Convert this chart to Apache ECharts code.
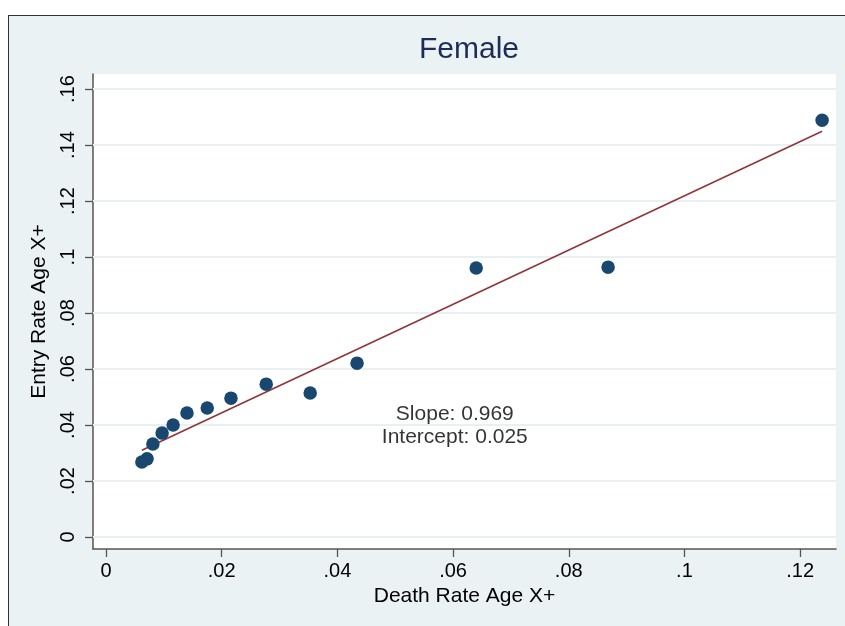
<!DOCTYPE html>
<html>
<head>
<meta charset="utf-8">
<script src="https://cdn.jsdelivr.net/npm/echarts@6/dist/echarts.min.js"></script>
<style>
html,body{margin:0;padding:0;background:#fff;overflow:hidden;}
#frame{position:absolute;left:8px;top:15px;width:900px;height:700px;background:#EAF2F3;border-left:1.5px solid #333;border-top:1.5px solid #333;}
#chart{position:absolute;left:0;top:0;width:845px;height:626px;}
</style>
</head>
<body>
<div id="frame"></div>
<div id="chart"></div>
<script>
// Data
const deathRate = [0.0062, 0.0071, 0.0081, 0.0097, 0.0116, 0.0140, 0.0175, 0.0216, 0.0277, 0.0353, 0.0434, 0.0640, 0.0868, 0.1238];
const entryRate = [0.0268, 0.0279, 0.0332, 0.0371, 0.0400, 0.0443, 0.0461, 0.0496, 0.0546, 0.0514, 0.0621, 0.0961, 0.0964, 0.1489];
const slope = 0.969;
const intercept = 0.025;
const xTicks = [0, 0.02, 0.04, 0.06, 0.08, 0.1, 0.12];
const yTicks = [0, 0.02, 0.04, 0.06, 0.08, 0.1, 0.12, 0.14, 0.16];
const annotationLines = ['Slope: 0.969', 'Intercept: 0.025'];
const annotationX = 0.0603;
const annotationY = [0.0439, 0.0357];

const fmt = v => v === 0 ? '0' : String(+v.toFixed(2)).replace(/^0/, '');
const pts = deathRate.map((x, i) => [x, entryRate[i]]);
const xMinD = Math.min(...deathRate), xMaxD = Math.max(...deathRate);
const fitLine = [[xMinD, intercept + slope * xMinD], [xMaxD, intercept + slope * xMaxD]];
const font = 'Liberation Sans, Arial, sans-serif';

const chart = echarts.init(document.getElementById('chart'));
chart.setOption({
  backgroundColor: 'transparent',
  animation: false,
  title: {
    text: 'Female', left: 464, top: 30, textAlign: 'center',
    textStyle: { color: '#1c2d5a', fontSize: 30, fontWeight: 'normal', fontFamily: font }
  },
  grid: { left: 93, right: 9, top: 74, bottom: 77, show: true, backgroundColor: '#fff', borderWidth: 0 },
  xAxis: {
    type: 'value', min: -0.00225, max: 0.1262,
    name: 'Death Rate Age X+', nameLocation: 'middle', nameGap: 32,
    nameTextStyle: { color: '#000', fontSize: 21, fontFamily: font },
    axisLine: { show: true, onZero: false, lineStyle: { color: '#555', width: 1.5 } },
    axisTick: { show: true, length: 8, customValues: xTicks, lineStyle: { color: '#555', width: 1.3 } },
    axisLabel: { customValues: xTicks, formatter: fmt, color: '#000', fontSize: 20, fontFamily: font, margin: 12 },
    splitLine: { show: false }
  },
  yAxis: {
    type: 'value', min: -0.0043, max: 0.1654,
    name: 'Entry Rate Age X+', nameLocation: 'middle', nameGap: 43, nameRotate: 90,
    nameTextStyle: { color: '#000', fontSize: 21, fontFamily: font },
    axisLine: { show: true, onZero: false, lineStyle: { color: '#555', width: 1.5 } },
    axisTick: { show: true, length: 8, customValues: yTicks, lineStyle: { color: '#555', width: 1.3 } },
    axisLabel: { customValues: yTicks, formatter: fmt, rotate: 90, color: '#000', fontSize: 20, fontFamily: font, margin: 15 },
    splitLine: { show: false }
  },
  series: [
    {
      type: 'line', data: [], silent: true, z: 1,
      markLine: {
        silent: true, symbol: 'none', z: 1, label: { show: false },
        lineStyle: { color: '#e9f0f3', width: 2, type: 'solid' },
        data: yTicks.map(v => ({ yAxis: v }))
      }
    },
    {
      type: 'line', data: fitLine, showSymbol: false, symbol: 'none',
      lineStyle: { color: '#90353b', width: 1.6 }, z: 10
    },
    {
      type: 'scatter', data: pts, symbolSize: 13.5,
      itemStyle: { color: '#1a476f', opacity: 1 }, z: 11
    },
    {
      type: 'scatter', symbolSize: 0, silent: true,
      data: annotationLines.map((t, i) => ({ value: [annotationX, annotationY[i]], name: t })),
      label: { show: true, position: 'inside', formatter: p => p.name, color: '#000', fontSize: 21, fontFamily: font },
      z: 12
    }
  ]
});
</script>
</body>
</html>
